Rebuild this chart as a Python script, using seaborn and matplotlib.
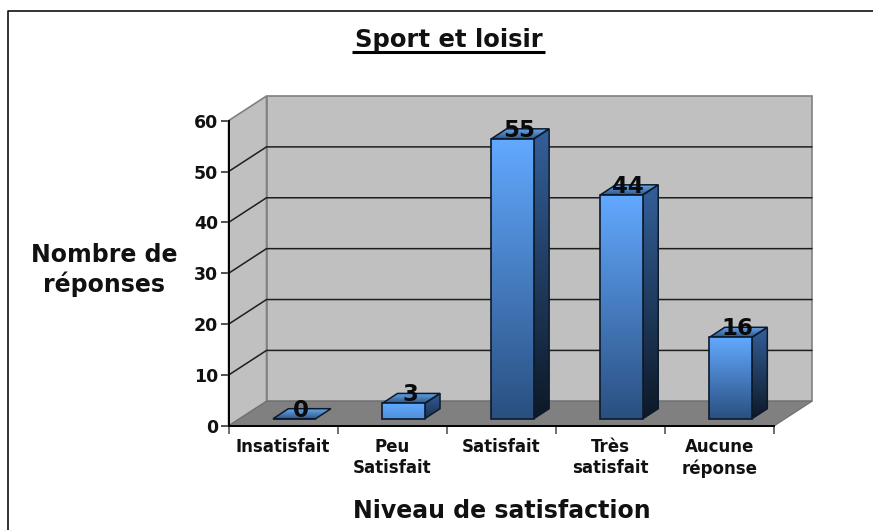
import numpy as np
import pandas as pd
import matplotlib
matplotlib.use("Agg")
import matplotlib.pyplot as plt
import seaborn as sns
from matplotlib.colors import LinearSegmentedColormap
from matplotlib.lines import Line2D
from matplotlib.patches import Polygon
from matplotlib.transforms import IdentityTransform, ScaledTranslation

# chart data
categories = ["Insatisfait", "Peu\nSatisfait", "Satisfait", "Très\nsatisfait", "Aucune\nréponse"]
reponses = [0, 3, 55, 44, 16]
y_ticks = [0, 10, 20, 30, 40, 50, 60]

W, H = 873, 530

# fake 3d depth, in pixels
WALL_DX, WALL_DY = 38, 24.7
BAR_DX, BAR_DY = 11.3, 7.3
TOP_DX, TOP_DY = 15.3, 10

sns.set_theme(style="white")
plt.rcParams["font.family"] = ["DejaVu Sans"]

fig = plt.figure(figsize=(W / 100, H / 100), dpi=100, facecolor="white")
ax = fig.add_axes([228.5 / W, (H - 426) / H, 545.5 / W, 305.3 / H])
ax.patch.set_visible(False)

df = pd.DataFrame({"categorie": categories, "reponses": reponses})
sns.barplot(data=df, x="categorie", y="reponses", ax=ax, width=0.39, fill=True,
            facecolor="none", edgecolor="#0c1a2c", linewidth=1.2, zorder=6)
ax.set_xlim(-0.5, len(categories) - 0.5)
ax.set_ylim(0, 60)
xlim, ylim = ax.get_xlim(), ax.get_ylim()

to_px = ax.transData.transform
pix = IdentityTransform()


def poly(points, face, edge="none", lw=1.0, z=1):
    p = Polygon(points, closed=True, facecolor=face, edgecolor=edge, linewidth=lw,
                transform=pix, zorder=z, clip_on=False)
    ax.add_patch(p)
    return p


def gradient(points, top_color, bottom_color, z):
    # vertical gradient clipped to a polygon, same idea as excel's fill
    points = np.array(points)
    cmap = LinearSegmentedColormap.from_list("g", [top_color, bottom_color])
    clip = Polygon(points, closed=True, transform=pix, facecolor="none", edgecolor="none")
    ax.add_patch(clip)
    extent = (points[:, 0].min(), points[:, 0].max(), points[:, 1].min(), points[:, 1].max())
    im = ax.imshow(np.linspace(0, 1, 256).reshape(-1, 1), cmap=cmap, extent=extent, origin="upper",
                   aspect="auto", transform=pix, zorder=z, interpolation="bilinear")
    im.set_clip_path(clip)


# walls and floor
(x0, y0) = to_px((xlim[0], 0))
(x1, y1) = to_px((xlim[1], 60))
grey_line = "#808080"
poly([(x0, y0), (x0 + WALL_DX, y0 + WALL_DY), (x0 + WALL_DX, y1 + WALL_DY), (x0, y1)], "#c0c0c0", grey_line, 1.2)
poly([(x0 + WALL_DX, y0 + WALL_DY), (x1 + WALL_DX, y0 + WALL_DY), (x1 + WALL_DX, y1 + WALL_DY),
      (x0 + WALL_DX, y1 + WALL_DY)], "#c0c0c0", grey_line, 1.2)
poly([(x0, y0), (x1, y0), (x1 + WALL_DX, y0 + WALL_DY), (x0 + WALL_DX, y0 + WALL_DY)], "#808080", "#707070", 0.8)

# gridlines run along side wall then back wall
for t in y_ticks[1:-1]:
    ty = to_px((0, t))[1]
    ax.add_line(Line2D([x0, x0 + WALL_DX, x1 + WALL_DX], [ty, ty + WALL_DY, ty + WALL_DY],
                       color="#1e1e1e", lw=1.1, transform=pix, zorder=2, clip_on=False))

# move the seaborn bars back onto the floor and add sides
bar_shift = ax.transData + ScaledTranslation(BAR_DX / 100, BAR_DY / 100, fig.dpi_scale_trans)
for bar, val in zip(ax.patches[:len(reponses)], reponses):
    bar.set_transform(bar_shift)
    bx0, by0 = bar_shift.transform((bar.get_x(), 0))
    bx1, by1 = bar_shift.transform((bar.get_x() + bar.get_width(), val))
    short = val < 5

    top_pts = [(bx0, by1), (bx1, by1), (bx1 + TOP_DX, by1 + TOP_DY), (bx0 + TOP_DX, by1 + TOP_DY)]
    gradient(top_pts, "#66a5ea", "#2f5688", 4)
    poly(top_pts, "none", "#0c1a2c", 1.1, 5)

    if val > 0:
        side_pts = [(bx1, by0), (bx1 + TOP_DX, by0 + TOP_DY), (bx1 + TOP_DX, by1 + TOP_DY), (bx1, by1)]
        gradient(side_pts, "#33609a", "#1a2f4d" if short else "#0d1825", 4)
        poly(side_pts, "none", "#0c1a2c", 1.1, 5)
        gradient([(bx0, by0), (bx1, by0), (bx1, by1), (bx0, by1)], "#62a9ff",
                 "#4f8fda" if short else "#2a4f80", 5)

    ax.text(bx0 + (bx1 - bx0) / 2 + 6.5, by1 + 8.5, str(val), transform=pix, ha="center", va="center",
            fontsize=16.5, fontweight="bold", color="#0a0a0a", zorder=8)

ax.set_xlim(xlim)
ax.set_ylim(ylim)

# axes
sns.despine(ax=ax, top=True, right=True)
for side in ["left", "bottom"]:
    ax.spines[side].set_color("black")
    ax.spines[side].set_linewidth(1.4)
    ax.spines[side].set_zorder(7)

ax.set_yticks(y_ticks)
ax.set_yticklabels([str(t) for t in y_ticks], fontsize=12.5, fontweight="bold", color="#111111")
ax.tick_params(axis="y", left=True, length=6, width=1.2, color="#333333", pad=1.5)

ax.set_xticks(range(len(categories)))
ax.set_xticklabels(categories, fontsize=12, fontweight="bold", color="#111111", linespacing=1.2)
ax.set_xticks(np.arange(len(categories) + 1) - 0.5, minor=True)
ax.tick_params(axis="x", which="major", bottom=False, length=0, pad=9)
ax.tick_params(axis="x", which="minor", bottom=True, length=6, width=1.2, color="#555555")
ax.set_xlabel("")
ax.set_ylabel("")

# titles placed in figure pixels
fig.text(104 / W, (H - 270) / H, "Nombre de\nréponses", ha="center", va="center", fontsize=17,
         fontweight="bold", color="#111111", linespacing=1.25)
fig.text(502 / W, (H - 511) / H, "Niveau de satisfaction", ha="center", va="center", fontsize=17,
         fontweight="bold", color="#111111")
title = fig.text(448.5 / W, (H - 47.5) / H, "Sport et loisir", ha="center", va="baseline", fontsize=17.5,
                 fontweight="bold", color="#111111")

fig.canvas.draw()
box = title.get_window_extent()
fig.add_artist(Line2D([(box.x0 - 3) / W, (box.x1 + 3) / W], [(H - 51.5) / H] * 2, color="black", lw=2.2,
                      solid_capstyle="butt"))

# outer frame, only top and left show up
fig.add_artist(Line2D([873 / W, 7.5 / W, 7.5 / W], [(H - 11) / H, (H - 11) / H, 0], color="#111111", lw=1.2))

fig.savefig("out.png", dpi=100, facecolor="white")
